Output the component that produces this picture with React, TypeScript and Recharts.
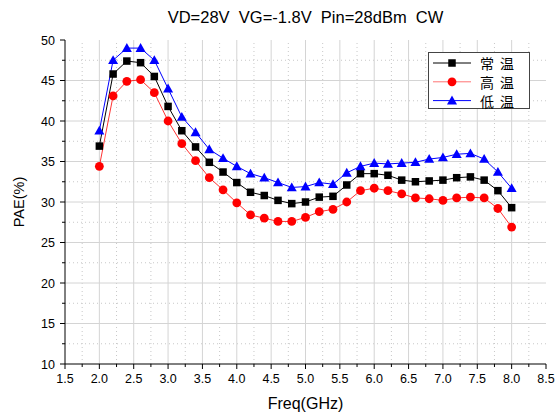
import React from 'react';
import { LineChart, Line, XAxis, YAxis, ReferenceLine, Legend } from 'recharts';

// PAE vs frequency at three temperatures
const freqGHz = [2.0, 2.2, 2.4, 2.6, 2.8, 3.0, 3.2, 3.4, 3.6, 3.8, 4.0, 4.2, 4.4, 4.6, 4.8, 5.0, 5.2, 5.4, 5.6, 5.8, 6.0, 6.2, 6.4, 6.6, 6.8, 7.0, 7.2, 7.4, 7.6, 7.8, 8.0];
const paeNormal = [36.9, 45.8, 47.4, 47.2, 45.5, 41.8, 38.8, 36.8, 34.9, 33.7, 32.4, 31.2, 30.8, 30.2, 29.8, 30.0, 30.6, 30.7, 32.1, 33.5, 33.5, 33.3, 32.7, 32.5, 32.6, 32.7, 33.0, 33.1, 32.7, 31.4, 29.3];
const paeHigh = [34.4, 43.1, 44.9, 45.1, 43.5, 40.0, 37.2, 35.1, 33.0, 31.5, 29.9, 28.4, 28.0, 27.6, 27.6, 28.1, 28.8, 29.1, 30.0, 31.4, 31.7, 31.4, 31.0, 30.5, 30.4, 30.2, 30.5, 30.6, 30.5, 29.2, 26.9];
const paeLow = [38.8, 47.5, 49.0, 49.0, 47.5, 44.0, 40.5, 38.6, 36.5, 35.4, 34.4, 33.5, 33.0, 32.4, 31.8, 31.9, 32.4, 32.2, 33.6, 34.4, 34.8, 34.7, 34.8, 34.9, 35.3, 35.5, 35.9, 36.0, 35.3, 33.7, 31.7];

const xMajor = [1.5, 2.0, 2.5, 3.0, 3.5, 4.0, 4.5, 5.0, 5.5, 6.0, 6.5, 7.0, 7.5, 8.0, 8.5];
const xMinor = [1.75, 2.25, 2.75, 3.25, 3.75, 4.25, 4.75, 5.25, 5.75, 6.25, 6.75, 7.25, 7.75, 8.25];
const yMajor = [10, 15, 20, 25, 30, 35, 40, 45, 50];
const yMinor = [12.5, 17.5, 22.5, 27.5, 32.5, 37.5, 42.5, 47.5];

const titleText = 'VD=28V  VG=-1.8V  Pin=28dBm  CW';

const series = [
    { key: 'normal', name: '常温', color: '#000000', shape: 'square' },
    { key: 'high', name: '高温', color: '#ff0000', shape: 'circle' },
    { key: 'low', name: '低温', color: '#0000ff', shape: 'triangle' },
];

const data = freqGHz.map((f, i) => ({ f, normal: paeNormal[i], high: paeHigh[i], low: paeLow[i] }));

const FONT = "'Liberation Sans', Arial, sans-serif";
const CJK_FONT = "'Noto Sans CJK SC', sans-serif";

const marker = (shape: string, color: string, cx: number, cy: number, key?: any) => {
    if (shape === 'square') {
        return <rect key={key} x={cx - 3.75} y={cy - 3.75} width={7.5} height={7.5} fill={color} />;
    }
    if (shape === 'circle') {
        return <circle key={key} cx={cx} cy={cy} r={4.4} fill={color} />;
    }
    return <polygon key={key} points={`${cx},${cy - 5} ${cx + 5},${cy + 3.8} ${cx - 5},${cy + 3.8}`} fill={color} />;
};

const BottomTick = (props: any) => {
    const { x, y, payload } = props;
    const major = xMajor.includes(payload.value);
    return (
        <g>
            <line x1={x} y1={y} x2={x} y2={y + (major ? 5 : 3)} stroke="#000" />
            {major && (
                <text x={x} y={y + 19} textAnchor="middle" fontSize={12.5} fontFamily={FONT} fill="#000">
                    {payload.value.toFixed(1)}
                </text>
            )}
        </g>
    );
};

const LeftTick = (props: any) => {
    const { x, y, payload } = props;
    const major = yMajor.includes(payload.value);
    return (
        <g>
            <line x1={x} y1={y} x2={x - (major ? 5 : 3)} y2={y} stroke="#000" />
            {major && (
                <text x={x - 10} y={y + 4.5} textAnchor="end" fontSize={12.5} fontFamily={FONT} fill="#000">
                    {payload.value}
                </text>
            )}
        </g>
    );
};

const RightTick = (props: any) => {
    const { x, y, payload } = props;
    const major = yMajor.includes(payload.value);
    return <line x1={x} y1={y} x2={x - (major ? 5 : 3)} y2={y} stroke="#000" />;
};

const LegendBox = () => (
    <div style={{ width: 102, height: 57, border: '1px solid #444', background: '#fff', boxSizing: 'border-box' }}>
        <svg width={100} height={55} style={{ overflow: 'visible', display: 'block' }}>
            {series.map((s, i) => {
                const cy = 10 + i * 18.8;
                return (
                    <g key={s.key}>
                        <line x1={4} y1={cy} x2={42} y2={cy} stroke={s.color} strokeOpacity={s.key === 'high' ? 0.55 : 1} />
                        {marker(s.shape, s.color, 23, cy)}
                        <text x={51} y={cy} dominantBaseline="central" fontSize={14} fontFamily={CJK_FONT} fill="#000">
                            <tspan>{s.name[0]}</tspan>
                            <tspan dx={6}>{s.name[1]}</tspan>
                        </text>
                    </g>
                );
            })}
        </svg>
    </div>
);

export default function App() {
    return (
        <div style={{ position: 'absolute', left: 0, top: 0, width: 559, height: 412, background: '#fff' }}>
            <div
                style={{
                    position: 'absolute',
                    left: 65,
                    width: 481,
                    top: 8,
                    textAlign: 'center',
                    fontFamily: FONT,
                    fontSize: 16.5,
                    lineHeight: '18px',
                    whiteSpace: 'pre',
                    color: '#000',
                }}
            >
                {titleText}
            </div>
            <LineChart width={559} height={412} data={data} margin={{ top: 40, right: 13, left: 0, bottom: 0 }}>
                {xMinor.map((v) => (
                    <ReferenceLine key={`xm${v}`} x={v} stroke="#c8c8c8" strokeDasharray="1 3" zIndex={-50} />
                ))}
                {yMinor.map((v) => (
                    <ReferenceLine key={`ym${v}`} y={v} stroke="#c8c8c8" strokeDasharray="1 3" zIndex={-50} />
                ))}
                {xMajor.slice(1, -1).map((v) => (
                    <ReferenceLine key={`xM${v}`} x={v} stroke="#d4d4d4" zIndex={-50} />
                ))}
                {yMajor.slice(1, -1).map((v) => (
                    <ReferenceLine key={`yM${v}`} y={v} stroke="#d4d4d4" zIndex={-50} />
                ))}
                <XAxis
                    dataKey="f"
                    type="number"
                    domain={[1.5, 8.5]}
                    ticks={[...xMajor, ...xMinor].sort((a, b) => a - b)}
                    interval={0}
                    allowDataOverflow
                    height={48}
                    tickSize={0}
                    tickMargin={0}
                    tickLine={false}
                    tick={<BottomTick />}
                    axisLine={{ stroke: '#000' }}
                    label={{ value: 'Freq(GHz)', position: 'insideBottom', offset: 3, fontSize: 16, fontFamily: FONT, fill: '#000' }}
                />
                <XAxis
                    xAxisId="top"
                    orientation="top"
                    type="number"
                    domain={[1.5, 8.5]}
                    allowDataOverflow
                    height={0}
                    tick={false}
                    tickLine={false}
                    axisLine={{ stroke: '#000' }}
                />
                <YAxis
                    type="number"
                    domain={[10, 50]}
                    ticks={[...yMajor, ...yMinor].sort((a, b) => a - b)}
                    interval={0}
                    allowDataOverflow
                    width={65}
                    tickSize={0}
                    tickMargin={0}
                    tickLine={false}
                    tick={<LeftTick />}
                    axisLine={{ stroke: '#000' }}
                    label={(props: any) => {
                        const vb = props.viewBox;
                        const cx = vb.x + 19;
                        const cy = vb.y + vb.height / 2;
                        return (
                            <text
                                x={cx}
                                y={cy}
                                transform={`rotate(-90, ${cx}, ${cy})`}
                                textAnchor="middle"
                                dominantBaseline="central"
                                fontSize={14.5}
                                fontFamily={FONT}
                                fill="#000"
                            >
                                PAE(%)
                            </text>
                        );
                    }}
                />
                <YAxis
                    yAxisId="right"
                    orientation="right"
                    type="number"
                    domain={[10, 50]}
                    ticks={[...yMajor, ...yMinor].sort((a, b) => a - b)}
                    interval={0}
                    allowDataOverflow
                    width={0}
                    tickSize={0}
                    tickMargin={0}
                    tickLine={false}
                    tick={<RightTick />}
                    axisLine={{ stroke: '#000' }}
                />
                <Legend
                    layout="vertical"
                    align="center"
                    verticalAlign="middle"
                    wrapperStyle={{ position: 'absolute', left: 428, top: 52, width: 102, height: 57 }}
                    content={() => <LegendBox />}
                />
                {series.map((s) => (
                    <Line
                        key={s.key}
                        dataKey={s.key}
                        name={s.name}
                        type="linear"
                        stroke={s.color}
                        strokeWidth={1}
                        strokeOpacity={s.key === 'high' ? 0.8 : 1}
                        dot={(p: any) => marker(s.shape, s.color, p.cx, p.cy, `${s.key}-${p.index}`)}
                        activeDot={false}
                        isAnimationActive={false}
                    />
                ))}
            </LineChart>
        </div>
    );
}
